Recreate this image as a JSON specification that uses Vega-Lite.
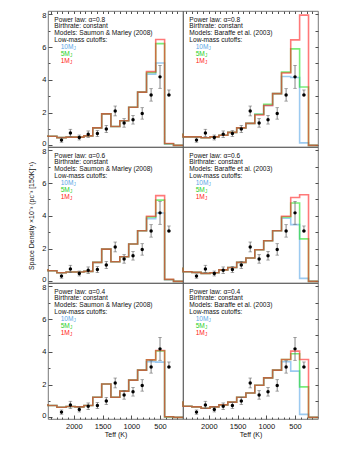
{
  "$schema": "https://vega.github.io/schema/vega-lite/v6.json",
  "padding": {"left": 27, "top": 10, "right": 2, "bottom": 2},
  "bounds": "flush",
  "config": {
    "font": "Liberation Sans",
    "view": {"stroke": "#555", "strokeWidth": 0.8},
    "facet": {"spacing": 0},
    "axis": {"domain": false, "grid": false, "tickColor": "#222", "tickWidth": 0.8, "labelColor": "#111", "labelFont": "Liberation Sans", "labelFontSize": 7.5, "titleFont": "Liberation Sans", "titleFontWeight": "normal", "titleFontSize": 7, "titleColor": "#111"},
    "header": {"titleFont": "Liberation Sans", "titleFontSize": 7, "titleFontWeight": "normal", "titleColor": "#111"}
  },
  "data": {"values": [
    {"a":"0.8","mo":"S","k":"a","l1":"Power law: α=0.8","l3":"Models: Saumon & Marley (2008)"},
    {"a":"0.8","mo":"B","k":"a","l1":"Power law: α=0.8","l3":"Models: Baraffe et al. (2003)"},
    {"a":"0.6","mo":"S","k":"a","l1":"Power law: α=0.6","l3":"Models: Saumon & Marley (2008)"},
    {"a":"0.6","mo":"B","k":"a","l1":"Power law: α=0.6","l3":"Models: Baraffe et al. (2003)"},
    {"a":"0.4","mo":"S","k":"a","l1":"Power law: α=0.4","l3":"Models: Saumon & Marley (2008)"},
    {"a":"0.4","mo":"B","k":"a","l1":"Power law: α=0.4","l3":"Models: Baraffe et al. (2003)"},

    {"a":"0.8","mo":"S","k":"m","c":"10","t":2450,"v":0.62},{"a":"0.8","mo":"S","k":"m","c":"10","t":2295,"v":0.56},{"a":"0.8","mo":"S","k":"m","c":"10","t":2135,"v":0.47},{"a":"0.8","mo":"S","k":"m","c":"10","t":1980,"v":0.50},{"a":"0.8","mo":"S","k":"m","c":"10","t":1825,"v":0.50},{"a":"0.8","mo":"S","k":"m","c":"10","t":1670,"v":0.58},{"a":"0.8","mo":"S","k":"m","c":"10","t":1515,"v":1.07},{"a":"0.8","mo":"S","k":"m","c":"10","t":1355,"v":1.92},{"a":"0.8","mo":"S","k":"m","c":"10","t":1200,"v":1.15},{"a":"0.8","mo":"S","k":"m","c":"10","t":1045,"v":1.50},{"a":"0.8","mo":"S","k":"m","c":"10","t":890,"v":2.33},{"a":"0.8","mo":"S","k":"m","c":"10","t":735,"v":3.25},{"a":"0.8","mo":"S","k":"m","c":"10","t":575,"v":4.35},{"a":"0.8","mo":"S","k":"m","c":"10","t":420,"v":5.03},{"a":"0.8","mo":"S","k":"m","c":"10","t":265,"v":0.09},{"a":"0.8","mo":"S","k":"m","c":"10","t":100,"v":0},
    {"a":"0.8","mo":"S","k":"m","c":"5","t":2450,"v":0.62},{"a":"0.8","mo":"S","k":"m","c":"5","t":2295,"v":0.56},{"a":"0.8","mo":"S","k":"m","c":"5","t":2135,"v":0.47},{"a":"0.8","mo":"S","k":"m","c":"5","t":1980,"v":0.50},{"a":"0.8","mo":"S","k":"m","c":"5","t":1825,"v":0.50},{"a":"0.8","mo":"S","k":"m","c":"5","t":1670,"v":0.58},{"a":"0.8","mo":"S","k":"m","c":"5","t":1515,"v":1.07},{"a":"0.8","mo":"S","k":"m","c":"5","t":1355,"v":1.92},{"a":"0.8","mo":"S","k":"m","c":"5","t":1200,"v":1.15},{"a":"0.8","mo":"S","k":"m","c":"5","t":1045,"v":1.50},{"a":"0.8","mo":"S","k":"m","c":"5","t":890,"v":2.33},{"a":"0.8","mo":"S","k":"m","c":"5","t":735,"v":3.25},{"a":"0.8","mo":"S","k":"m","c":"5","t":575,"v":4.45},{"a":"0.8","mo":"S","k":"m","c":"5","t":420,"v":6.21},{"a":"0.8","mo":"S","k":"m","c":"5","t":265,"v":0.10},{"a":"0.8","mo":"S","k":"m","c":"5","t":100,"v":0},
    {"a":"0.8","mo":"S","k":"m","c":"1","t":2450,"v":0.62},{"a":"0.8","mo":"S","k":"m","c":"1","t":2295,"v":0.56},{"a":"0.8","mo":"S","k":"m","c":"1","t":2135,"v":0.47},{"a":"0.8","mo":"S","k":"m","c":"1","t":1980,"v":0.50},{"a":"0.8","mo":"S","k":"m","c":"1","t":1825,"v":0.50},{"a":"0.8","mo":"S","k":"m","c":"1","t":1670,"v":0.58},{"a":"0.8","mo":"S","k":"m","c":"1","t":1515,"v":1.07},{"a":"0.8","mo":"S","k":"m","c":"1","t":1355,"v":1.92},{"a":"0.8","mo":"S","k":"m","c":"1","t":1200,"v":1.15},{"a":"0.8","mo":"S","k":"m","c":"1","t":1045,"v":1.50},{"a":"0.8","mo":"S","k":"m","c":"1","t":890,"v":2.33},{"a":"0.8","mo":"S","k":"m","c":"1","t":735,"v":3.25},{"a":"0.8","mo":"S","k":"m","c":"1","t":575,"v":4.50},{"a":"0.8","mo":"S","k":"m","c":"1","t":420,"v":6.46},{"a":"0.8","mo":"S","k":"m","c":"1","t":265,"v":0.11},{"a":"0.8","mo":"S","k":"m","c":"1","t":100,"v":0},

    {"a":"0.8","mo":"B","k":"m","c":"10","t":2450,"v":0.72},{"a":"0.8","mo":"B","k":"m","c":"10","t":2295,"v":0.52},{"a":"0.8","mo":"B","k":"m","c":"10","t":2135,"v":0.52},{"a":"0.8","mo":"B","k":"m","c":"10","t":1980,"v":0.46},{"a":"0.8","mo":"B","k":"m","c":"10","t":1825,"v":0.52},{"a":"0.8","mo":"B","k":"m","c":"10","t":1670,"v":0.62},{"a":"0.8","mo":"B","k":"m","c":"10","t":1515,"v":0.79},{"a":"0.8","mo":"B","k":"m","c":"10","t":1355,"v":1.07},{"a":"0.8","mo":"B","k":"m","c":"10","t":1200,"v":1.34},{"a":"0.8","mo":"B","k":"m","c":"10","t":1045,"v":1.90},{"a":"0.8","mo":"B","k":"m","c":"10","t":890,"v":2.43},{"a":"0.8","mo":"B","k":"m","c":"10","t":735,"v":3.16},{"a":"0.8","mo":"B","k":"m","c":"10","t":575,"v":4.20},{"a":"0.8","mo":"B","k":"m","c":"10","t":420,"v":4.14},{"a":"0.8","mo":"B","k":"m","c":"10","t":265,"v":0.15},{"a":"0.8","mo":"B","k":"m","c":"10","t":100,"v":0},
    {"a":"0.8","mo":"B","k":"m","c":"5","t":2450,"v":0.72},{"a":"0.8","mo":"B","k":"m","c":"5","t":2295,"v":0.52},{"a":"0.8","mo":"B","k":"m","c":"5","t":2135,"v":0.52},{"a":"0.8","mo":"B","k":"m","c":"5","t":1980,"v":0.46},{"a":"0.8","mo":"B","k":"m","c":"5","t":1825,"v":0.52},{"a":"0.8","mo":"B","k":"m","c":"5","t":1670,"v":0.62},{"a":"0.8","mo":"B","k":"m","c":"5","t":1515,"v":0.79},{"a":"0.8","mo":"B","k":"m","c":"5","t":1355,"v":1.07},{"a":"0.8","mo":"B","k":"m","c":"5","t":1200,"v":1.34},{"a":"0.8","mo":"B","k":"m","c":"5","t":1045,"v":1.90},{"a":"0.8","mo":"B","k":"m","c":"5","t":890,"v":2.50},{"a":"0.8","mo":"B","k":"m","c":"5","t":735,"v":3.16},{"a":"0.8","mo":"B","k":"m","c":"5","t":575,"v":4.47},{"a":"0.8","mo":"B","k":"m","c":"5","t":420,"v":5.89},{"a":"0.8","mo":"B","k":"m","c":"5","t":265,"v":3.56},{"a":"0.8","mo":"B","k":"m","c":"5","t":100,"v":0},
    {"a":"0.8","mo":"B","k":"m","c":"1","t":2450,"v":0.72},{"a":"0.8","mo":"B","k":"m","c":"1","t":2295,"v":0.52},{"a":"0.8","mo":"B","k":"m","c":"1","t":2135,"v":0.52},{"a":"0.8","mo":"B","k":"m","c":"1","t":1980,"v":0.46},{"a":"0.8","mo":"B","k":"m","c":"1","t":1825,"v":0.52},{"a":"0.8","mo":"B","k":"m","c":"1","t":1670,"v":0.62},{"a":"0.8","mo":"B","k":"m","c":"1","t":1515,"v":0.79},{"a":"0.8","mo":"B","k":"m","c":"1","t":1355,"v":1.07},{"a":"0.8","mo":"B","k":"m","c":"1","t":1200,"v":1.34},{"a":"0.8","mo":"B","k":"m","c":"1","t":1045,"v":1.85},{"a":"0.8","mo":"B","k":"m","c":"1","t":890,"v":2.43},{"a":"0.8","mo":"B","k":"m","c":"1","t":735,"v":3.16},{"a":"0.8","mo":"B","k":"m","c":"1","t":575,"v":4.42},{"a":"0.8","mo":"B","k":"m","c":"1","t":420,"v":6.44},{"a":"0.8","mo":"B","k":"m","c":"1","t":265,"v":7.95},{"a":"0.8","mo":"B","k":"m","c":"1","t":100,"v":0},

    {"a":"0.6","mo":"S","k":"m","c":"10","t":2450,"v":0.76},{"a":"0.6","mo":"S","k":"m","c":"10","t":2295,"v":0.65},{"a":"0.6","mo":"S","k":"m","c":"10","t":2135,"v":0.53},{"a":"0.6","mo":"S","k":"m","c":"10","t":1980,"v":0.57},{"a":"0.6","mo":"S","k":"m","c":"10","t":1825,"v":0.57},{"a":"0.6","mo":"S","k":"m","c":"10","t":1670,"v":0.61},{"a":"0.6","mo":"S","k":"m","c":"10","t":1515,"v":1.16},{"a":"0.6","mo":"S","k":"m","c":"10","t":1355,"v":1.97},{"a":"0.6","mo":"S","k":"m","c":"10","t":1200,"v":1.20},{"a":"0.6","mo":"S","k":"m","c":"10","t":1045,"v":1.50},{"a":"0.6","mo":"S","k":"m","c":"10","t":890,"v":2.28},{"a":"0.6","mo":"S","k":"m","c":"10","t":735,"v":3.09},{"a":"0.6","mo":"S","k":"m","c":"10","t":575,"v":3.83},{"a":"0.6","mo":"S","k":"m","c":"10","t":420,"v":4.17},{"a":"0.6","mo":"S","k":"m","c":"10","t":265,"v":0.10},{"a":"0.6","mo":"S","k":"m","c":"10","t":100,"v":0},
    {"a":"0.6","mo":"S","k":"m","c":"5","t":2450,"v":0.76},{"a":"0.6","mo":"S","k":"m","c":"5","t":2295,"v":0.65},{"a":"0.6","mo":"S","k":"m","c":"5","t":2135,"v":0.53},{"a":"0.6","mo":"S","k":"m","c":"5","t":1980,"v":0.57},{"a":"0.6","mo":"S","k":"m","c":"5","t":1825,"v":0.57},{"a":"0.6","mo":"S","k":"m","c":"5","t":1670,"v":0.61},{"a":"0.6","mo":"S","k":"m","c":"5","t":1515,"v":1.16},{"a":"0.6","mo":"S","k":"m","c":"5","t":1355,"v":1.97},{"a":"0.6","mo":"S","k":"m","c":"5","t":1200,"v":1.20},{"a":"0.6","mo":"S","k":"m","c":"5","t":1045,"v":1.50},{"a":"0.6","mo":"S","k":"m","c":"5","t":890,"v":2.28},{"a":"0.6","mo":"S","k":"m","c":"5","t":735,"v":3.09},{"a":"0.6","mo":"S","k":"m","c":"5","t":575,"v":3.93},{"a":"0.6","mo":"S","k":"m","c":"5","t":420,"v":4.96},{"a":"0.6","mo":"S","k":"m","c":"5","t":265,"v":0.11},{"a":"0.6","mo":"S","k":"m","c":"5","t":100,"v":0},
    {"a":"0.6","mo":"S","k":"m","c":"1","t":2450,"v":0.76},{"a":"0.6","mo":"S","k":"m","c":"1","t":2295,"v":0.65},{"a":"0.6","mo":"S","k":"m","c":"1","t":2135,"v":0.53},{"a":"0.6","mo":"S","k":"m","c":"1","t":1980,"v":0.57},{"a":"0.6","mo":"S","k":"m","c":"1","t":1825,"v":0.57},{"a":"0.6","mo":"S","k":"m","c":"1","t":1670,"v":0.61},{"a":"0.6","mo":"S","k":"m","c":"1","t":1515,"v":1.16},{"a":"0.6","mo":"S","k":"m","c":"1","t":1355,"v":1.97},{"a":"0.6","mo":"S","k":"m","c":"1","t":1200,"v":1.20},{"a":"0.6","mo":"S","k":"m","c":"1","t":1045,"v":1.50},{"a":"0.6","mo":"S","k":"m","c":"1","t":890,"v":2.28},{"a":"0.6","mo":"S","k":"m","c":"1","t":735,"v":3.09},{"a":"0.6","mo":"S","k":"m","c":"1","t":575,"v":3.97},{"a":"0.6","mo":"S","k":"m","c":"1","t":420,"v":5.23},{"a":"0.6","mo":"S","k":"m","c":"1","t":265,"v":0.12},{"a":"0.6","mo":"S","k":"m","c":"1","t":100,"v":0},

    {"a":"0.6","mo":"B","k":"m","c":"10","t":2450,"v":0.85},{"a":"0.6","mo":"B","k":"m","c":"10","t":2295,"v":0.59},{"a":"0.6","mo":"B","k":"m","c":"10","t":2135,"v":0.55},{"a":"0.6","mo":"B","k":"m","c":"10","t":1980,"v":0.49},{"a":"0.6","mo":"B","k":"m","c":"10","t":1825,"v":0.53},{"a":"0.6","mo":"B","k":"m","c":"10","t":1670,"v":0.70},{"a":"0.6","mo":"B","k":"m","c":"10","t":1515,"v":0.85},{"a":"0.6","mo":"B","k":"m","c":"10","t":1355,"v":1.16},{"a":"0.6","mo":"B","k":"m","c":"10","t":1200,"v":1.43},{"a":"0.6","mo":"B","k":"m","c":"10","t":1045,"v":1.93},{"a":"0.6","mo":"B","k":"m","c":"10","t":890,"v":2.48},{"a":"0.6","mo":"B","k":"m","c":"10","t":735,"v":3.09},{"a":"0.6","mo":"B","k":"m","c":"10","t":575,"v":3.85},{"a":"0.6","mo":"B","k":"m","c":"10","t":420,"v":3.46},{"a":"0.6","mo":"B","k":"m","c":"10","t":265,"v":0.18},{"a":"0.6","mo":"B","k":"m","c":"10","t":100,"v":0},
    {"a":"0.6","mo":"B","k":"m","c":"5","t":2450,"v":0.85},{"a":"0.6","mo":"B","k":"m","c":"5","t":2295,"v":0.59},{"a":"0.6","mo":"B","k":"m","c":"5","t":2135,"v":0.55},{"a":"0.6","mo":"B","k":"m","c":"5","t":1980,"v":0.49},{"a":"0.6","mo":"B","k":"m","c":"5","t":1825,"v":0.53},{"a":"0.6","mo":"B","k":"m","c":"5","t":1670,"v":0.70},{"a":"0.6","mo":"B","k":"m","c":"5","t":1515,"v":0.85},{"a":"0.6","mo":"B","k":"m","c":"5","t":1355,"v":1.16},{"a":"0.6","mo":"B","k":"m","c":"5","t":1200,"v":1.43},{"a":"0.6","mo":"B","k":"m","c":"5","t":1045,"v":1.93},{"a":"0.6","mo":"B","k":"m","c":"5","t":890,"v":2.48},{"a":"0.6","mo":"B","k":"m","c":"5","t":735,"v":3.09},{"a":"0.6","mo":"B","k":"m","c":"5","t":575,"v":3.93},{"a":"0.6","mo":"B","k":"m","c":"5","t":420,"v":4.78},{"a":"0.6","mo":"B","k":"m","c":"5","t":265,"v":2.59},{"a":"0.6","mo":"B","k":"m","c":"5","t":100,"v":0},
    {"a":"0.6","mo":"B","k":"m","c":"1","t":2450,"v":0.85},{"a":"0.6","mo":"B","k":"m","c":"1","t":2295,"v":0.59},{"a":"0.6","mo":"B","k":"m","c":"1","t":2135,"v":0.55},{"a":"0.6","mo":"B","k":"m","c":"1","t":1980,"v":0.49},{"a":"0.6","mo":"B","k":"m","c":"1","t":1825,"v":0.53},{"a":"0.6","mo":"B","k":"m","c":"1","t":1670,"v":0.70},{"a":"0.6","mo":"B","k":"m","c":"1","t":1515,"v":0.85},{"a":"0.6","mo":"B","k":"m","c":"1","t":1355,"v":1.16},{"a":"0.6","mo":"B","k":"m","c":"1","t":1200,"v":1.43},{"a":"0.6","mo":"B","k":"m","c":"1","t":1045,"v":1.93},{"a":"0.6","mo":"B","k":"m","c":"1","t":890,"v":2.48},{"a":"0.6","mo":"B","k":"m","c":"1","t":735,"v":3.09},{"a":"0.6","mo":"B","k":"m","c":"1","t":575,"v":3.97},{"a":"0.6","mo":"B","k":"m","c":"1","t":420,"v":5.12},{"a":"0.6","mo":"B","k":"m","c":"1","t":265,"v":5.29},{"a":"0.6","mo":"B","k":"m","c":"1","t":100,"v":0},

    {"a":"0.4","mo":"S","k":"m","c":"10","t":2450,"v":0.82},{"a":"0.4","mo":"S","k":"m","c":"10","t":2295,"v":0.72},{"a":"0.4","mo":"S","k":"m","c":"10","t":2135,"v":0.62},{"a":"0.4","mo":"S","k":"m","c":"10","t":1980,"v":0.66},{"a":"0.4","mo":"S","k":"m","c":"10","t":1825,"v":0.64},{"a":"0.4","mo":"S","k":"m","c":"10","t":1670,"v":0.72},{"a":"0.4","mo":"S","k":"m","c":"10","t":1515,"v":1.23},{"a":"0.4","mo":"S","k":"m","c":"10","t":1355,"v":2.04},{"a":"0.4","mo":"S","k":"m","c":"10","t":1200,"v":1.23},{"a":"0.4","mo":"S","k":"m","c":"10","t":1045,"v":1.60},{"a":"0.4","mo":"S","k":"m","c":"10","t":890,"v":2.27},{"a":"0.4","mo":"S","k":"m","c":"10","t":735,"v":2.88},{"a":"0.4","mo":"S","k":"m","c":"10","t":575,"v":3.39},{"a":"0.4","mo":"S","k":"m","c":"10","t":420,"v":3.37},{"a":"0.4","mo":"S","k":"m","c":"10","t":265,"v":0.03},{"a":"0.4","mo":"S","k":"m","c":"10","t":100,"v":0},
    {"a":"0.4","mo":"S","k":"m","c":"5","t":2450,"v":0.82},{"a":"0.4","mo":"S","k":"m","c":"5","t":2295,"v":0.72},{"a":"0.4","mo":"S","k":"m","c":"5","t":2135,"v":0.62},{"a":"0.4","mo":"S","k":"m","c":"5","t":1980,"v":0.66},{"a":"0.4","mo":"S","k":"m","c":"5","t":1825,"v":0.64},{"a":"0.4","mo":"S","k":"m","c":"5","t":1670,"v":0.72},{"a":"0.4","mo":"S","k":"m","c":"5","t":1515,"v":1.23},{"a":"0.4","mo":"S","k":"m","c":"5","t":1355,"v":2.04},{"a":"0.4","mo":"S","k":"m","c":"5","t":1200,"v":1.23},{"a":"0.4","mo":"S","k":"m","c":"5","t":1045,"v":1.60},{"a":"0.4","mo":"S","k":"m","c":"5","t":890,"v":2.27},{"a":"0.4","mo":"S","k":"m","c":"5","t":735,"v":2.88},{"a":"0.4","mo":"S","k":"m","c":"5","t":575,"v":3.51},{"a":"0.4","mo":"S","k":"m","c":"5","t":420,"v":4.06},{"a":"0.4","mo":"S","k":"m","c":"5","t":265,"v":0.03},{"a":"0.4","mo":"S","k":"m","c":"5","t":100,"v":0},
    {"a":"0.4","mo":"S","k":"m","c":"1","t":2450,"v":0.82},{"a":"0.4","mo":"S","k":"m","c":"1","t":2295,"v":0.72},{"a":"0.4","mo":"S","k":"m","c":"1","t":2135,"v":0.62},{"a":"0.4","mo":"S","k":"m","c":"1","t":1980,"v":0.66},{"a":"0.4","mo":"S","k":"m","c":"1","t":1825,"v":0.64},{"a":"0.4","mo":"S","k":"m","c":"1","t":1670,"v":0.72},{"a":"0.4","mo":"S","k":"m","c":"1","t":1515,"v":1.23},{"a":"0.4","mo":"S","k":"m","c":"1","t":1355,"v":2.04},{"a":"0.4","mo":"S","k":"m","c":"1","t":1200,"v":1.23},{"a":"0.4","mo":"S","k":"m","c":"1","t":1045,"v":1.60},{"a":"0.4","mo":"S","k":"m","c":"1","t":890,"v":2.27},{"a":"0.4","mo":"S","k":"m","c":"1","t":735,"v":2.88},{"a":"0.4","mo":"S","k":"m","c":"1","t":575,"v":3.51},{"a":"0.4","mo":"S","k":"m","c":"1","t":420,"v":4.08},{"a":"0.4","mo":"S","k":"m","c":"1","t":265,"v":0.04},{"a":"0.4","mo":"S","k":"m","c":"1","t":100,"v":0},

    {"a":"0.4","mo":"B","k":"m","c":"10","t":2450,"v":0.99},{"a":"0.4","mo":"B","k":"m","c":"10","t":2295,"v":0.68},{"a":"0.4","mo":"B","k":"m","c":"10","t":2135,"v":0.64},{"a":"0.4","mo":"B","k":"m","c":"10","t":1980,"v":0.56},{"a":"0.4","mo":"B","k":"m","c":"10","t":1825,"v":0.64},{"a":"0.4","mo":"B","k":"m","c":"10","t":1670,"v":0.76},{"a":"0.4","mo":"B","k":"m","c":"10","t":1515,"v":0.93},{"a":"0.4","mo":"B","k":"m","c":"10","t":1355,"v":1.23},{"a":"0.4","mo":"B","k":"m","c":"10","t":1200,"v":1.49},{"a":"0.4","mo":"B","k":"m","c":"10","t":1045,"v":1.96},{"a":"0.4","mo":"B","k":"m","c":"10","t":890,"v":2.41},{"a":"0.4","mo":"B","k":"m","c":"10","t":735,"v":2.88},{"a":"0.4","mo":"B","k":"m","c":"10","t":575,"v":3.39},{"a":"0.4","mo":"B","k":"m","c":"10","t":420,"v":2.82},{"a":"0.4","mo":"B","k":"m","c":"10","t":265,"v":0.18},{"a":"0.4","mo":"B","k":"m","c":"10","t":100,"v":0},
    {"a":"0.4","mo":"B","k":"m","c":"5","t":2450,"v":0.99},{"a":"0.4","mo":"B","k":"m","c":"5","t":2295,"v":0.68},{"a":"0.4","mo":"B","k":"m","c":"5","t":2135,"v":0.64},{"a":"0.4","mo":"B","k":"m","c":"5","t":1980,"v":0.56},{"a":"0.4","mo":"B","k":"m","c":"5","t":1825,"v":0.64},{"a":"0.4","mo":"B","k":"m","c":"5","t":1670,"v":0.76},{"a":"0.4","mo":"B","k":"m","c":"5","t":1515,"v":0.93},{"a":"0.4","mo":"B","k":"m","c":"5","t":1355,"v":1.23},{"a":"0.4","mo":"B","k":"m","c":"5","t":1200,"v":1.49},{"a":"0.4","mo":"B","k":"m","c":"5","t":1045,"v":1.96},{"a":"0.4","mo":"B","k":"m","c":"5","t":890,"v":2.41},{"a":"0.4","mo":"B","k":"m","c":"5","t":735,"v":2.88},{"a":"0.4","mo":"B","k":"m","c":"5","t":575,"v":3.53},{"a":"0.4","mo":"B","k":"m","c":"5","t":420,"v":3.88},{"a":"0.4","mo":"B","k":"m","c":"5","t":265,"v":1.86},{"a":"0.4","mo":"B","k":"m","c":"5","t":100,"v":0},
    {"a":"0.4","mo":"B","k":"m","c":"1","t":2450,"v":0.99},{"a":"0.4","mo":"B","k":"m","c":"1","t":2295,"v":0.68},{"a":"0.4","mo":"B","k":"m","c":"1","t":2135,"v":0.64},{"a":"0.4","mo":"B","k":"m","c":"1","t":1980,"v":0.56},{"a":"0.4","mo":"B","k":"m","c":"1","t":1825,"v":0.64},{"a":"0.4","mo":"B","k":"m","c":"1","t":1670,"v":0.76},{"a":"0.4","mo":"B","k":"m","c":"1","t":1515,"v":0.93},{"a":"0.4","mo":"B","k":"m","c":"1","t":1355,"v":1.23},{"a":"0.4","mo":"B","k":"m","c":"1","t":1200,"v":1.49},{"a":"0.4","mo":"B","k":"m","c":"1","t":1045,"v":1.96},{"a":"0.4","mo":"B","k":"m","c":"1","t":890,"v":2.41},{"a":"0.4","mo":"B","k":"m","c":"1","t":735,"v":2.88},{"a":"0.4","mo":"B","k":"m","c":"1","t":575,"v":3.53},{"a":"0.4","mo":"B","k":"m","c":"1","t":420,"v":4.04},{"a":"0.4","mo":"B","k":"m","c":"1","t":265,"v":3.53},{"a":"0.4","mo":"B","k":"m","c":"1","t":100,"v":0},

    {"a":"0.8","mo":"S","k":"o","t":2215,"v":0.32,"lo":0.19,"hi":0.45},{"a":"0.8","mo":"S","k":"o","t":2060,"v":0.76,"lo":0.54,"hi":0.98},{"a":"0.8","mo":"S","k":"o","t":1905,"v":0.48,"lo":0.33,"hi":0.63},{"a":"0.8","mo":"S","k":"o","t":1750,"v":0.68,"lo":0.48,"hi":0.88},{"a":"0.8","mo":"S","k":"o","t":1590,"v":0.72,"lo":0.54,"hi":0.90},{"a":"0.8","mo":"S","k":"o","t":1435,"v":1.00,"lo":0.78,"hi":1.22},{"a":"0.8","mo":"S","k":"o","t":1280,"v":2.10,"lo":1.80,"hi":2.40},{"a":"0.8","mo":"S","k":"o","t":1125,"v":1.37,"lo":1.11,"hi":1.63},{"a":"0.8","mo":"S","k":"o","t":970,"v":1.56,"lo":1.30,"hi":1.82},{"a":"0.8","mo":"S","k":"o","t":810,"v":1.95,"lo":1.60,"hi":2.30},{"a":"0.8","mo":"S","k":"o","t":655,"v":3.08,"lo":2.70,"hi":3.46},{"a":"0.8","mo":"S","k":"o","t":500,"v":4.18,"lo":3.48,"hi":4.88},{"a":"0.8","mo":"S","k":"o","t":345,"v":3.08,"lo":3.08,"hi":3.38},
    {"a":"0.8","mo":"B","k":"o","t":2215,"v":0.32,"lo":0.19,"hi":0.45},{"a":"0.8","mo":"B","k":"o","t":2060,"v":0.76,"lo":0.54,"hi":0.98},{"a":"0.8","mo":"B","k":"o","t":1905,"v":0.48,"lo":0.33,"hi":0.63},{"a":"0.8","mo":"B","k":"o","t":1750,"v":0.68,"lo":0.48,"hi":0.88},{"a":"0.8","mo":"B","k":"o","t":1590,"v":0.72,"lo":0.54,"hi":0.90},{"a":"0.8","mo":"B","k":"o","t":1435,"v":1.00,"lo":0.78,"hi":1.22},{"a":"0.8","mo":"B","k":"o","t":1280,"v":2.10,"lo":1.80,"hi":2.40},{"a":"0.8","mo":"B","k":"o","t":1125,"v":1.37,"lo":1.11,"hi":1.63},{"a":"0.8","mo":"B","k":"o","t":970,"v":1.56,"lo":1.30,"hi":1.82},{"a":"0.8","mo":"B","k":"o","t":810,"v":1.95,"lo":1.60,"hi":2.30},{"a":"0.8","mo":"B","k":"o","t":655,"v":3.08,"lo":2.70,"hi":3.46},{"a":"0.8","mo":"B","k":"o","t":500,"v":4.18,"lo":3.48,"hi":4.88},{"a":"0.8","mo":"B","k":"o","t":345,"v":3.08,"lo":3.08,"hi":3.38},
    {"a":"0.6","mo":"S","k":"o","t":2215,"v":0.32,"lo":0.19,"hi":0.45},{"a":"0.6","mo":"S","k":"o","t":2060,"v":0.76,"lo":0.54,"hi":0.98},{"a":"0.6","mo":"S","k":"o","t":1905,"v":0.48,"lo":0.33,"hi":0.63},{"a":"0.6","mo":"S","k":"o","t":1750,"v":0.68,"lo":0.48,"hi":0.88},{"a":"0.6","mo":"S","k":"o","t":1590,"v":0.72,"lo":0.54,"hi":0.90},{"a":"0.6","mo":"S","k":"o","t":1435,"v":1.00,"lo":0.78,"hi":1.22},{"a":"0.6","mo":"S","k":"o","t":1280,"v":2.10,"lo":1.80,"hi":2.40},{"a":"0.6","mo":"S","k":"o","t":1125,"v":1.37,"lo":1.11,"hi":1.63},{"a":"0.6","mo":"S","k":"o","t":970,"v":1.56,"lo":1.30,"hi":1.82},{"a":"0.6","mo":"S","k":"o","t":810,"v":1.95,"lo":1.60,"hi":2.30},{"a":"0.6","mo":"S","k":"o","t":655,"v":3.08,"lo":2.70,"hi":3.46},{"a":"0.6","mo":"S","k":"o","t":500,"v":4.18,"lo":3.48,"hi":4.88},{"a":"0.6","mo":"S","k":"o","t":345,"v":3.08,"lo":3.08,"hi":3.38},
    {"a":"0.6","mo":"B","k":"o","t":2215,"v":0.32,"lo":0.19,"hi":0.45},{"a":"0.6","mo":"B","k":"o","t":2060,"v":0.76,"lo":0.54,"hi":0.98},{"a":"0.6","mo":"B","k":"o","t":1905,"v":0.48,"lo":0.33,"hi":0.63},{"a":"0.6","mo":"B","k":"o","t":1750,"v":0.68,"lo":0.48,"hi":0.88},{"a":"0.6","mo":"B","k":"o","t":1590,"v":0.72,"lo":0.54,"hi":0.90},{"a":"0.6","mo":"B","k":"o","t":1435,"v":1.00,"lo":0.78,"hi":1.22},{"a":"0.6","mo":"B","k":"o","t":1280,"v":2.10,"lo":1.80,"hi":2.40},{"a":"0.6","mo":"B","k":"o","t":1125,"v":1.37,"lo":1.11,"hi":1.63},{"a":"0.6","mo":"B","k":"o","t":970,"v":1.56,"lo":1.30,"hi":1.82},{"a":"0.6","mo":"B","k":"o","t":810,"v":1.95,"lo":1.60,"hi":2.30},{"a":"0.6","mo":"B","k":"o","t":655,"v":3.08,"lo":2.70,"hi":3.46},{"a":"0.6","mo":"B","k":"o","t":500,"v":4.18,"lo":3.48,"hi":4.88},{"a":"0.6","mo":"B","k":"o","t":345,"v":3.08,"lo":3.08,"hi":3.38},
    {"a":"0.4","mo":"S","k":"o","t":2215,"v":0.32,"lo":0.19,"hi":0.45},{"a":"0.4","mo":"S","k":"o","t":2060,"v":0.76,"lo":0.54,"hi":0.98},{"a":"0.4","mo":"S","k":"o","t":1905,"v":0.48,"lo":0.33,"hi":0.63},{"a":"0.4","mo":"S","k":"o","t":1750,"v":0.68,"lo":0.48,"hi":0.88},{"a":"0.4","mo":"S","k":"o","t":1590,"v":0.72,"lo":0.54,"hi":0.90},{"a":"0.4","mo":"S","k":"o","t":1435,"v":1.00,"lo":0.78,"hi":1.22},{"a":"0.4","mo":"S","k":"o","t":1280,"v":2.10,"lo":1.80,"hi":2.40},{"a":"0.4","mo":"S","k":"o","t":1125,"v":1.37,"lo":1.11,"hi":1.63},{"a":"0.4","mo":"S","k":"o","t":970,"v":1.56,"lo":1.30,"hi":1.82},{"a":"0.4","mo":"S","k":"o","t":810,"v":1.95,"lo":1.60,"hi":2.30},{"a":"0.4","mo":"S","k":"o","t":655,"v":3.08,"lo":2.70,"hi":3.46},{"a":"0.4","mo":"S","k":"o","t":500,"v":4.18,"lo":3.48,"hi":4.88},{"a":"0.4","mo":"S","k":"o","t":345,"v":3.08,"lo":3.08,"hi":3.38},
    {"a":"0.4","mo":"B","k":"o","t":2215,"v":0.32,"lo":0.19,"hi":0.45},{"a":"0.4","mo":"B","k":"o","t":2060,"v":0.76,"lo":0.54,"hi":0.98},{"a":"0.4","mo":"B","k":"o","t":1905,"v":0.48,"lo":0.33,"hi":0.63},{"a":"0.4","mo":"B","k":"o","t":1750,"v":0.68,"lo":0.48,"hi":0.88},{"a":"0.4","mo":"B","k":"o","t":1590,"v":0.72,"lo":0.54,"hi":0.90},{"a":"0.4","mo":"B","k":"o","t":1435,"v":1.00,"lo":0.78,"hi":1.22},{"a":"0.4","mo":"B","k":"o","t":1280,"v":2.10,"lo":1.80,"hi":2.40},{"a":"0.4","mo":"B","k":"o","t":1125,"v":1.37,"lo":1.11,"hi":1.63},{"a":"0.4","mo":"B","k":"o","t":970,"v":1.56,"lo":1.30,"hi":1.82},{"a":"0.4","mo":"B","k":"o","t":810,"v":1.95,"lo":1.60,"hi":2.30},{"a":"0.4","mo":"B","k":"o","t":655,"v":3.08,"lo":2.70,"hi":3.46},{"a":"0.4","mo":"B","k":"o","t":500,"v":4.18,"lo":3.48,"hi":4.88},{"a":"0.4","mo":"B","k":"o","t":345,"v":3.08,"lo":3.08,"hi":3.38}
  ]},
  "spacing": {"row": 0, "column": 0},
  "facet": {
    "row": {"field": "a", "type": "nominal", "sort": ["0.8", "0.6", "0.4"], "title": "Space Density ×10⁻³ (pc⁻³ [150K]⁻¹)", "header": {"labels": false, "titlePadding": -4}},
    "column": {"field": "mo", "type": "nominal", "sort": ["S", "B"], "title": null, "header": {"labels": false}}
  },
  "spec": {
    "width": 135,
    "height": 136,
    "resolve": {"axis": {"x": "independent", "y": "independent"}},
    "layer": [
      {
        "transform": [{"filter": "datum.k == 'm'"}],
        "mark": {"type": "line", "interpolate": "step-before", "strokeWidth": 1.6, "opacity": 0.6},
        "encoding": {
          "x": {"field": "t", "type": "quantitative", "scale": {"domain": [100, 2450], "reverse": true, "nice": false, "zero": false},
                "axis": {"orient": "bottom", "values": [2000, 1500, 1000, 500], "format": "d", "title": "Teff (K)", "tickSize": -4, "labelPadding": 7, "titlePadding": 1}},
          "y": {"field": "v", "type": "quantitative", "scale": {"domain": [-0.1, 8.2], "nice": false, "zero": false},
                "axis": {"orient": "left", "values": [0, 2, 4, 6, 8], "title": null, "tickSize": -4, "labelPadding": 6,
                         "labelOffset": {"condition": [{"test": "datum.value == 0", "value": -1.5}, {"test": "datum.value == 8", "value": 1.5}], "value": 0}}},
          "color": {"field": "c", "type": "nominal", "scale": {"domain": ["10", "5", "1"], "range": ["#5aa6e6", "#1fe01f", "#ff2020"]}, "legend": null}
        }
      },
      {
        "transform": [{"filter": "datum.k == 'o'"}],
        "mark": {"type": "errorbar", "ticks": {"size": 3.5, "thickness": 0.8}, "color": "#666", "thickness": 0.8},
        "encoding": {
          "x": {"field": "t", "type": "quantitative", "axis": null},
          "y": {"field": "lo", "type": "quantitative", "axis": null},
          "y2": {"field": "hi"}
        }
      },
      {
        "transform": [{"filter": "datum.k == 'o'"}],
        "mark": {"type": "circle", "size": 12, "color": "#000", "opacity": 1},
        "encoding": {
          "x": {"field": "t", "type": "quantitative", "axis": {"orient": "top", "values": [200,300,400,500,600,700,800,900,1000,1100,1200,1300,1400,1500,1600,1700,1800,1900,2000,2100,2200,2300,2400], "labels": false, "title": null, "tickSize": -2.5}},
          "y": {"field": "v", "type": "quantitative", "axis": {"orient": "right", "values": [0,1,2,3,4,5,6,7,8], "labels": false, "title": null, "tickSize": -3}}
        }
      },
      {
        "transform": [{"filter": "datum.k == 'a'"}],
        "mark": {"type": "text", "align": "left", "baseline": "middle", "fontSize": 6.6, "color": "#111"},
        "encoding": {"x": {"datum": 2340, "type": "quantitative", "axis": null}, "y": {"datum": 7.68, "type": "quantitative", "axis": null}, "text": {"field": "l1"}}
      },
      {
        "transform": [{"filter": "datum.k == 'a'"}],
        "mark": {"type": "text", "align": "left", "baseline": "middle", "fontSize": 6.6, "color": "#111"},
        "encoding": {
          "x": {"datum": 2340, "type": "quantitative", "axis": {"orient": "bottom", "values": [200,300,400,600,700,800,900,1100,1200,1300,1400,1600,1700,1800,1900,2100,2200,2300,2400], "labels": false, "title": null, "tickSize": -2}},
          "y": {"datum": 7.26, "type": "quantitative", "axis": {"orient": "left", "values": [1, 3, 5, 7], "labels": false, "title": null, "tickSize": -2}},
          "text": {"value": "Birthrate: constant"}
        }
      },
      {
        "transform": [{"filter": "datum.k == 'a'"}],
        "mark": {"type": "text", "align": "left", "baseline": "middle", "fontSize": 6.6, "color": "#111"},
        "encoding": {"x": {"datum": 2340, "type": "quantitative", "axis": null}, "y": {"datum": 6.84, "type": "quantitative", "axis": null}, "text": {"field": "l3"}}
      },
      {
        "transform": [{"filter": "datum.k == 'a'"}],
        "mark": {"type": "text", "align": "left", "baseline": "middle", "fontSize": 6.6, "color": "#111"},
        "encoding": {"x": {"datum": 2340, "type": "quantitative", "axis": null}, "y": {"datum": 6.41, "type": "quantitative", "axis": null}, "text": {"value": "Low-mass cutoffs:"}}
      },
      {
        "transform": [{"filter": "datum.k == 'a'"}],
        "mark": {"type": "text", "align": "left", "baseline": "middle", "fontSize": 6.6, "color": "#5aa6e6"},
        "encoding": {"x": {"datum": 2230, "type": "quantitative", "axis": null}, "y": {"datum": 6.0, "type": "quantitative", "axis": null}, "text": {"value": "10M"}}
      },
      {
        "transform": [{"filter": "datum.k == 'a'"}],
        "mark": {"type": "text", "align": "left", "baseline": "middle", "fontSize": 4.5, "color": "#5aa6e6", "dx": 12.9, "dy": 1.8},
        "encoding": {"x": {"datum": 2230, "type": "quantitative", "axis": null}, "y": {"datum": 6.0, "type": "quantitative", "axis": null}, "text": {"value": "J"}}
      },
      {
        "transform": [{"filter": "datum.k == 'a'"}],
        "mark": {"type": "text", "align": "left", "baseline": "middle", "fontSize": 6.6, "color": "#1fd01f"},
        "encoding": {"x": {"datum": 2230, "type": "quantitative", "axis": null}, "y": {"datum": 5.58, "type": "quantitative", "axis": null}, "text": {"value": "5M"}}
      },
      {
        "transform": [{"filter": "datum.k == 'a'"}],
        "mark": {"type": "text", "align": "left", "baseline": "middle", "fontSize": 4.5, "color": "#1fd01f", "dx": 9.3, "dy": 1.8},
        "encoding": {"x": {"datum": 2230, "type": "quantitative", "axis": null}, "y": {"datum": 5.58, "type": "quantitative", "axis": null}, "text": {"value": "J"}}
      },
      {
        "transform": [{"filter": "datum.k == 'a'"}],
        "mark": {"type": "text", "align": "left", "baseline": "middle", "fontSize": 6.6, "color": "#ff2020"},
        "encoding": {"x": {"datum": 2230, "type": "quantitative", "axis": null}, "y": {"datum": 5.15, "type": "quantitative", "axis": null}, "text": {"value": "1M"}}
      },
      {
        "transform": [{"filter": "datum.k == 'a'"}],
        "mark": {"type": "text", "align": "left", "baseline": "middle", "fontSize": 4.5, "color": "#ff2020", "dx": 9.3, "dy": 1.8},
        "encoding": {"x": {"datum": 2230, "type": "quantitative", "axis": null}, "y": {"datum": 5.15, "type": "quantitative", "axis": null}, "text": {"value": "J"}}
      }
    ]
  }
}
